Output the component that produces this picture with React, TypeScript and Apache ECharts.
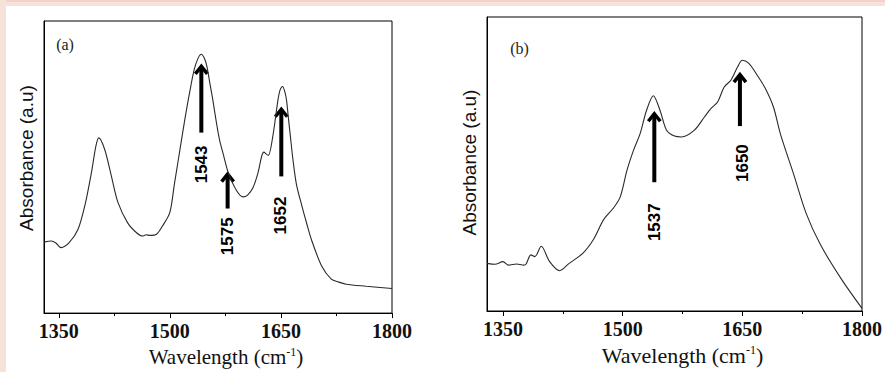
import React, { useEffect, useRef } from "react";
import * as echarts from "echarts";

// ---------- Panel (a) spectrum ----------
const wavenumbersA = [1330, 1340, 1346, 1353, 1364, 1376, 1385, 1394, 1400, 1404, 1412, 1421, 1430, 1443, 1455, 1463, 1468, 1473, 1482, 1490, 1500, 1506, 1513, 1520, 1527, 1533, 1538, 1542.5, 1547, 1550, 1554, 1558, 1563, 1567, 1572, 1579, 1590, 1599, 1605, 1612, 1619, 1624, 1627, 1630, 1633, 1639, 1646, 1649, 1652.3, 1655, 1657.5, 1660, 1663, 1666, 1671, 1678, 1685, 1691, 1705, 1718, 1728, 1738, 1765, 1800];
const absorbanceA = [24.3, 24.7, 24.0, 22.4, 24.1, 28.7, 36.6, 48.0, 57.1, 60.0, 56.0, 46.9, 37.8, 30.9, 27.5, 26.4, 26.8, 26.6, 27.0, 29.8, 34.5, 44, 55, 66, 76, 83.5, 87.2, 88.6, 87, 84.5, 78.7, 73, 65, 59.4, 54.5, 48.0, 42.0, 39.8, 40.4, 42.8, 48, 53.7, 55.1, 54.5, 54.0, 60.5, 73.0, 76.5, 77.6, 76, 73.0, 67, 60, 53, 44, 37, 30.5, 25.3, 16.1, 11.6, 10.6, 9.9, 9.2, 8.4];

// ---------- Panel (b) spectrum ----------
const wavenumbersB = [1330, 1340, 1350, 1357, 1367, 1376, 1379, 1385, 1390, 1398, 1408.5, 1421, 1433, 1450, 1464, 1476, 1489, 1497, 1505.5, 1513.7, 1522, 1530, 1538.5, 1546.8, 1555, 1565, 1573.6, 1590, 1602.5, 1610.8, 1619, 1627.3, 1635.6, 1644, 1650, 1658.2, 1668.6, 1678.9, 1689, 1698, 1714, 1730, 1748, 1775, 1800];
const absorbanceB = [16.2, 15.9, 16.8, 15.6, 16.0, 15.6, 16.0, 19.1, 18.5, 22.0, 16.8, 13.7, 16.2, 19.6, 24.6, 31.0, 35.2, 38.8, 47.9, 54.7, 60.4, 68.3, 73.2, 68.3, 61.5, 59.5, 59.2, 61.5, 66.0, 68.9, 71.1, 76.2, 78.5, 83.0, 85.3, 84.2, 80.2, 75.7, 69.4, 60.0, 46.8, 33.2, 22.5, 10.5, 0.9];

// ---------- Axis ticks ----------
const majorTicks = [1350, 1500, 1650, 1800];
const minorTicks = [1425, 1575, 1725];
const xMin = 1330;
const xMax = 1800;

// ---------- Peak annotations ----------
const peakLabelsA = ["1543", "1575", "1652"];
const arrowXA = [1542.5, 1578, 1650.5];
const arrowTipA = [85.0, 48.1, 70.3];
const arrowBaseA = [61.8, 35.8, 46.8];
const labelXA = [1542.8, 1578, 1649.6];
const labelYA = [50.9, 26.3, 33.4];

const peakLabelsB = ["1537", "1650"];
const arrowXB = [1539.7, 1647];
const arrowTipB = [67.6, 80.9];
const arrowBaseB = [43.8, 62.9];
const labelXB = [1539.7, 1650];
const labelYB = [30.2, 50.3];

const panelTitles = ["(a)", "(b)"];

const zip = (xs: number[], ys: number[]) => xs.map((x, i) => [x, ys[i]]);

export default function App() {
  const ref = useRef<HTMLDivElement>(null);

  useEffect(() => {
    if (!ref.current) return;
    const chart = echarts.init(ref.current, null, { renderer: "svg" });

    const grids = [
      { left: 44, top: 21, width: 348, height: 293 },
      { left: 487, top: 17, width: 379, height: 294 },
    ];

    const xName = (fs: number, gap: number) => ({
      name: "Wavelength (cm{sup|-1})",
      nameLocation: "middle",
      nameGap: gap,
      nameTextStyle: {
        fontFamily: "Liberation Serif",
        fontSize: fs,
        color: "#111",
        padding: [0, 0, 0, 16],
        rich: {
          sup: { fontFamily: "Liberation Serif", fontSize: 12, color: "#111", verticalAlign: "top", lineHeight: fs },
        },
      },
    });

    const mainX = (gi: number, fs: number, gap: number) => ({
      type: "value",
      gridIndex: gi,
      min: xMin,
      max: xMax,
      position: "bottom",
      ...xName(fs, gap),
      axisLine: { show: true, lineStyle: { color: "#000", width: 1 } },
      axisTick: { show: true, inside: false, length: 5, customValues: majorTicks, lineStyle: { color: "#000" } },
      axisLabel: {
        show: true,
        customValues: majorTicks,
        formatter: (v: number) => String(v),
        margin: 8,
        fontFamily: "Liberation Serif",
        fontWeight: "bold",
        fontSize: 20,
        color: "#111",
      },
      splitLine: { show: false },
    });

    const minorX = (gi: number) => ({
      type: "value",
      gridIndex: gi,
      min: xMin,
      max: xMax,
      position: "bottom",
      axisLine: { show: false },
      axisTick: { show: true, inside: false, length: 3, customValues: minorTicks, lineStyle: { color: "#000" } },
      axisLabel: { show: false },
      splitLine: { show: false },
    });

    const yAx = (gi: number, pad: number[]) => ({
      type: "value",
      gridIndex: gi,
      min: 0,
      max: 100,
      name: "Absorbance (a.u)",
      nameLocation: "middle",
      nameRotate: 90,
      nameGap: 8,
      nameTextStyle: { fontFamily: "Liberation Sans", fontSize: 19, color: "#111", padding: pad },
      axisLine: { show: true, lineStyle: { color: "#000", width: 1 } },
      axisTick: { show: false },
      axisLabel: { show: false },
      splitLine: { show: false },
    });

    const option: any = {
      animation: false,
      backgroundColor: "#ffffff",
      grid: grids.map((g) => ({ ...g, show: true, borderColor: "#000", borderWidth: 1, backgroundColor: "transparent" })),
      xAxis: [mainX(0, 21, 29), minorX(0), mainX(1, 22, 33), minorX(1)],
      yAxis: [yAx(0, [0, 0, 0, 18]), yAx(1, [0, 0, 0, 3])],
      series: [
        {
          type: "line",
          xAxisIndex: 0,
          yAxisIndex: 0,
          data: zip(wavenumbersA, absorbanceA),
          smooth: 0.3,
          showSymbol: false,
          lineStyle: { color: "#2a2a2a", width: 1.1 },
        },
        {
          type: "line",
          xAxisIndex: 2,
          yAxisIndex: 1,
          data: zip(wavenumbersB, absorbanceB),
          smooth: 0.3,
          showSymbol: false,
          lineStyle: { color: "#2a2a2a", width: 1.1 },
        },
      ],
    };
    chart.setOption(option);

    const px = (si: number, x: number, y: number) => chart.convertToPixel({ seriesIndex: si } as any, [x, y]) as number[];

    const graphics: any[] = [
      { type: "rect", shape: { x: 0, y: 0, width: 885, height: 6 }, style: { fill: "#f7e2da" }, silent: true },
      { type: "rect", shape: { x: 0, y: 0, width: 885, height: 2 }, style: { fill: "#f3d3c9" }, silent: true },
      { type: "rect", shape: { x: 0, y: 0, width: 6, height: 372 }, style: { fill: "#f7e2da" }, silent: true },
    ];

    const addArrows = (si: number, labels: string[], ax: number[], tip: number[], base: number[], lx: number[], ly: number[]) => {
      labels.forEach((lab, i) => {
        const t = px(si, ax[i], tip[i]);
        const b = px(si, ax[i], base[i]);
        const l = px(si, lx[i], ly[i]);
        graphics.push({
          type: "line",
          shape: { x1: b[0], y1: b[1], x2: t[0], y2: t[1] + 3 },
          style: { stroke: "#000", lineWidth: 4 },
          silent: true,
        });
        graphics.push({
          type: "polyline",
          shape: { points: [[t[0] - 6, t[1] + 9], [t[0], t[1] + 1.5], [t[0] + 6, t[1] + 9]] },
          style: { stroke: "#000", lineWidth: 3.5, fill: null, lineJoin: "miter" },
          silent: true,
        });
        graphics.push({
          type: "text",
          x: l[0],
          y: l[1],
          rotation: Math.PI / 2,
          style: {
            text: lab,
            fontFamily: "Liberation Sans",
            fontWeight: "bold",
            fontSize: 17,
            fill: "#000",
            align: "center",
            verticalAlign: "middle",
          },
          silent: true,
        });
      });
    };
    addArrows(0, peakLabelsA, arrowXA, arrowTipA, arrowBaseA, labelXA, labelYA);
    addArrows(1, peakLabelsB, arrowXB, arrowTipB, arrowBaseB, labelXB, labelYB);

    graphics.push({
      type: "text",
      x: grids[0].left + 21,
      y: grids[0].top + 23,
      style: { text: panelTitles[0], fontFamily: "Liberation Serif", fontSize: 16, fill: "#222", align: "center", verticalAlign: "middle" },
      silent: true,
    });
    graphics.push({
      type: "text",
      x: grids[1].left + 32.5,
      y: grids[1].top + 31,
      style: { text: panelTitles[1], fontFamily: "Liberation Serif", fontSize: 16, fill: "#222", align: "center", verticalAlign: "middle" },
      silent: true,
    });

    chart.setOption({ graphic: graphics });

    return () => chart.dispose();
  }, []);

  return (
    <div
      ref={ref}
      style={{ position: "absolute", left: 0, top: 0, width: 885, height: 372, background: "#fff" }}
    />
  );
}
